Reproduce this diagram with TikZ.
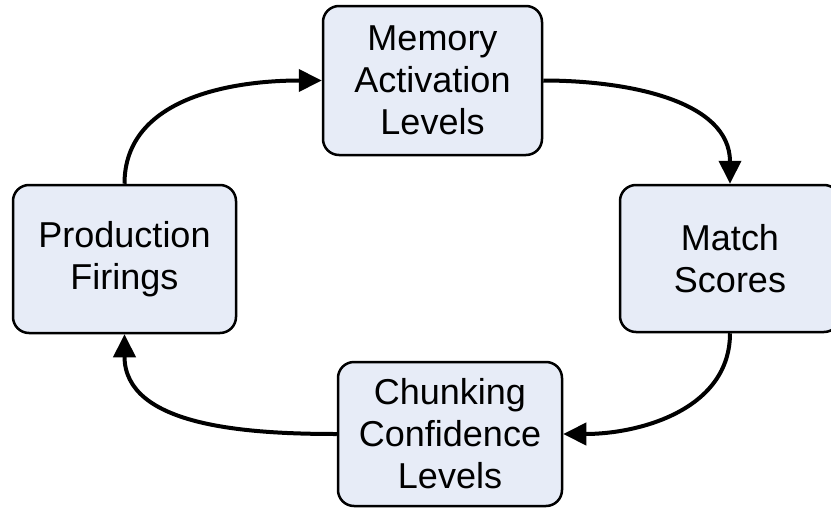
\documentclass[tikz,border=0pt]{standalone}
\usepackage{fontspec}
\setmainfont{Liberation Sans}
\definecolor{boxfill}{RGB}{231, 236, 247}
\usetikzlibrary{arrows.meta, positioning}

\tikzset{
  stagebox/.style={draw=black, line width=2.5pt, fill=boxfill, rounded corners=16pt,
    align=center, inner sep=0pt, font=\fontsize{36}{42}\selectfont},
  cyclearrow/.style={line width=4pt, -{Triangle[length=23pt, width=22pt]}}
}

\begin{document}
\begin{tikzpicture}[x=1pt, y=-1pt]
  \useasboundingbox (0, 0) rectangle (831, 509);

  % Stages
  \node[stagebox, minimum width=219pt, minimum height=149pt] (mem) at (432.5, 80.5) {Memory\\Activation\\Levels};
  \node[stagebox, minimum width=223pt, minimum height=148pt] (prod) at (124.5, 259) {Production\\Firings};
  \node[stagebox, minimum width=220pt, minimum height=147pt] (match) at (730, 258.5) {Match\\Scores};
  \node[stagebox, minimum width=224pt, minimum height=144pt] (chunk) at (450, 434) {Chunking\\Confidence\\Levels};

  % Cycle
  \draw[cyclearrow] (prod.north) to[out=90, in=180] (mem.west);
  \draw[cyclearrow] (mem.east) to[out=0, in=90] (match.north);
  \draw[cyclearrow] (match.south) to[out=-90, in=0] (chunk.east);
  \draw[cyclearrow] (chunk.west) to[out=180, in=-90] (prod.south);
\end{tikzpicture}
\end{document}
